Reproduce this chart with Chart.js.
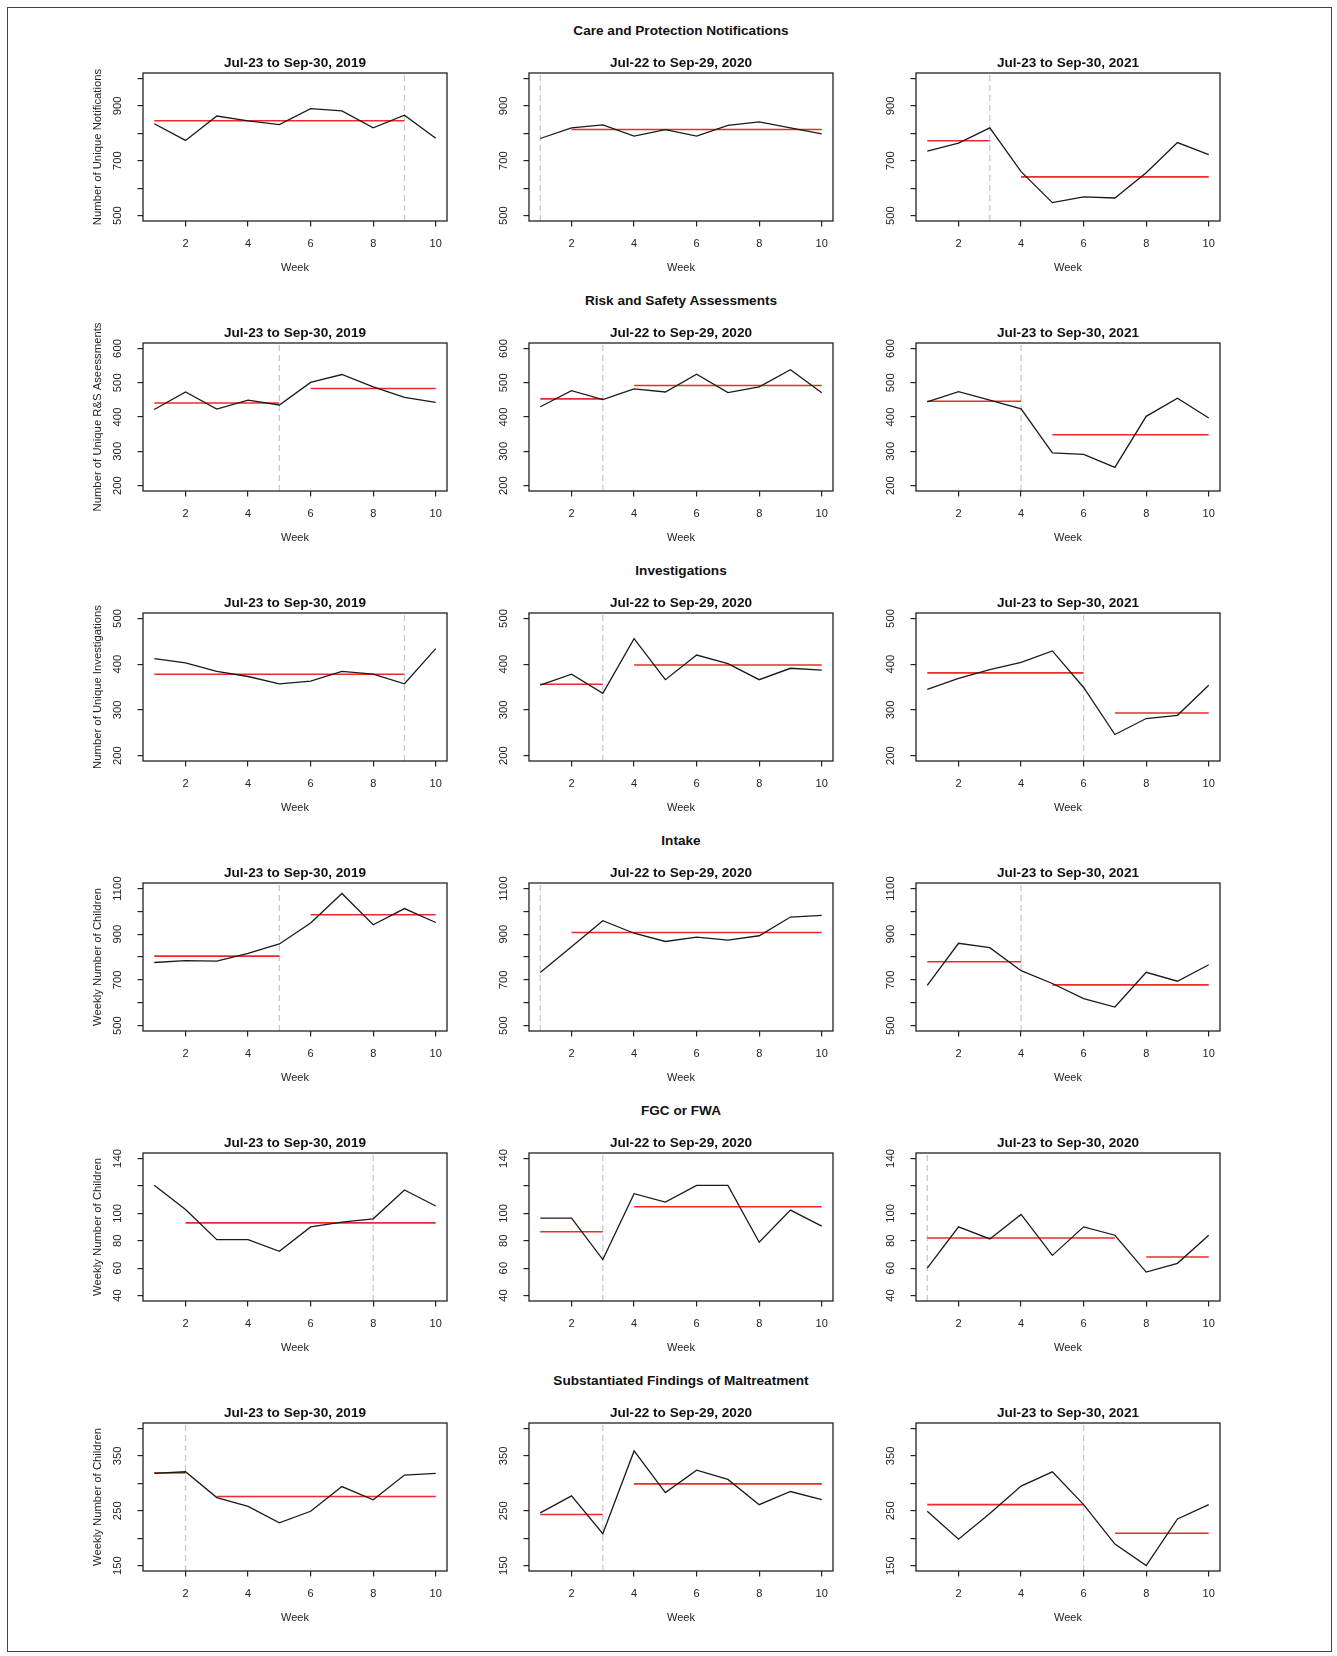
<!DOCTYPE html>
<html>

<head>
  <meta charset="utf-8">
  <title>Weekly indicators, 2019 - 2021</title>
  <script src="https://cdn.jsdelivr.net/npm/chart.js@4.4.0/dist/chart.umd.min.js"></script>
  <style>
    body { margin: 0; background: #fff; font-family: "Liberation Sans", Arial, sans-serif; }
    #page { position: relative; width: 1337px; height: 1656px; overflow: hidden; }
    #frame { position: absolute; left: 7px; top: 7px; width: 1323px; height: 1643px; border: 1px solid #444; }
    .rowTitle { position: absolute; left: 0; width: 1362px; text-align: center; font-weight: bold; font-size: 13.6px; line-height: 16px; color: #111; }
    canvas { position: absolute; }
  </style>
</head>

<body>
  <div id="page">
    <div id="frame"></div>
  </div>

  <script>
    // weeks and shared labels
    const weeks = [1, 2, 3, 4, 5, 6, 7, 8, 9, 10];
    const xTicks = [2, 4, 6, 8, 10];
    const rowTitles = ["Care and Protection Notifications", "Risk and Safety Assessments", "Investigations",
      "Intake", "FGC or FWA", "Substantiated Findings of Maltreatment"];
    const colTitles = ["Jul-23 to Sep-30, 2019", "Jul-22 to Sep-29, 2020", "Jul-23 to Sep-30, 2021"];
    const fgcColTitles = ["Jul-23 to Sep-30, 2019", "Jul-22 to Sep-29, 2020", "Jul-23 to Sep-30, 2020"];
    const yTitles = ["Number of Unique Notifications", "Number of Unique R&S Aseessments", "Number of Unique Investigations",
      "Weekly Number of Children", "Weekly Number of Children", "Weekly Number of Children"];

    // Care and Protection Notifications
    const notifTicks = [500, 600, 700, 800, 900, 1000];
    const notifLabels = [500, 700, 900];
    const notif2019 = [835, 774, 863, 845, 832, 890, 882, 820, 866, 782];
    const notif2020 = [781, 820, 831, 790, 813, 790, 829, 842, 820, 798];
    const notif2021 = [735, 764, 820, 660, 547, 568, 564, 656, 766, 722];
    const notifBreaks = [9, 1, 3];
    const notifMeans2019 = [[1, 9, 846]];
    const notifMeans2020 = [[2, 10, 814]];
    const notifMeans2021 = [[1, 3, 773], [4, 10, 641]];

    // Risk and Safety Assessments
    const rsaTicks = [200, 300, 400, 500, 600];
    const rsaLabels = [200, 300, 400, 500, 600];
    const rsa2019 = [422, 473, 423, 449, 435, 501, 524, 488, 457, 443];
    const rsa2020 = [430, 477, 451, 482, 473, 525, 471, 488, 538, 471];
    const rsa2021 = [444, 474, 449, 424, 295, 291, 253, 402, 455, 397];
    const rsaBreaks = [5, 3, 4];
    const rsaMeans2019 = [[1, 5, 441], [6, 10, 483]];
    const rsaMeans2020 = [[1, 3, 453], [4, 10, 492]];
    const rsaMeans2021 = [[1, 4, 446], [5, 10, 348]];

    // Investigations
    const invTicks = [200, 300, 400, 500];
    const invLabels = [200, 300, 400, 500];
    const inv2019 = [412, 403, 384, 373, 357, 363, 384, 378, 357, 434];
    const inv2020 = [354, 378, 336, 456, 366, 420, 401, 366, 391, 387];
    const inv2021 = [345, 369, 388, 404, 429, 349, 246, 281, 288, 354];
    const invBreaks = [9, 3, 6];
    const invMeans2019 = [[1, 9, 378]];
    const invMeans2020 = [[1, 3, 356], [4, 10, 398]];
    const invMeans2021 = [[1, 6, 381], [7, 10, 293]];

    // Intake
    const intakeTicks = [500, 600, 700, 800, 900, 1000, 1100];
    const intakeLabels = [500, 700, 900, 1100];
    const intake2019 = [776, 784, 782, 816, 857, 949, 1078, 941, 1012, 951];
    const intake2020 = [732, 845, 959, 904, 868, 887, 874, 893, 975, 982];
    const intake2021 = [676, 860, 841, 740, 684, 618, 581, 733, 694, 766];
    const intakeBreaks = [5, 1, 4];
    const intakeMeans2019 = [[1, 5, 804], [6, 10, 985]];
    const intakeMeans2020 = [[2, 10, 907]];
    const intakeMeans2021 = [[1, 4, 779], [5, 10, 678]];

    // FGC or FWA
    const fgcTicks = [40, 60, 80, 100, 120, 140];
    const fgcLabels = [40, 60, 80, 100, 140];
    const fgc2019 = [120.4, 102.8, 80.8, 80.8, 72.3, 90.1, 93.5, 96, 117, 105.3];
    const fgc2020 = [96.5, 96.5, 66.2, 114.3, 108.2, 120.4, 120.4, 78.9, 102.3, 90.6];
    const fgc2021 = [60, 90.1, 81.3, 99.2, 69.3, 90.1, 84, 57.1, 63.5, 84];
    const fgcBreaks = [8, 3, 1];
    const fgcMeans2019 = [[2, 10, 93]];
    const fgcMeans2020 = [[1, 3, 86.5], [4, 10, 104.8]];
    const fgcMeans2021 = [[1, 7, 82], [8, 10, 68.1]];

    // Substantiated Findings of Maltreatment
    const subTicks = [150, 200, 250, 300, 350, 400];
    const subLabels = [150, 250, 350];
    const sub2019 = [318, 321, 274, 258, 228, 249, 294, 270, 315, 318];
    const sub2020 = [246, 277, 208, 359, 283, 324, 307, 261, 285, 270];
    const sub2021 = [249, 198, 245, 295, 321, 261, 189, 150, 235, 261];
    const subBreaks = [2, 3, 6];
    const subMeans2019 = [[1, 2, 319], [3, 10, 276]];
    const subMeans2020 = [[1, 3, 243], [4, 10, 299]];
    const subMeans2021 = [[1, 6, 261], [7, 10, 209]];

    const rows = [
      { ticks: notifTicks, labels: notifLabels, series: [notif2019, notif2020, notif2021], breaks: notifBreaks, means: [notifMeans2019, notifMeans2020, notifMeans2021], titles: colTitles },
      { ticks: rsaTicks, labels: rsaLabels, series: [rsa2019, rsa2020, rsa2021], breaks: rsaBreaks, means: [rsaMeans2019, rsaMeans2020, rsaMeans2021], titles: colTitles },
      { ticks: invTicks, labels: invLabels, series: [inv2019, inv2020, inv2021], breaks: invBreaks, means: [invMeans2019, invMeans2020, invMeans2021], titles: colTitles },
      { ticks: intakeTicks, labels: intakeLabels, series: [intake2019, intake2020, intake2021], breaks: intakeBreaks, means: [intakeMeans2019, intakeMeans2020, intakeMeans2021], titles: colTitles },
      { ticks: fgcTicks, labels: fgcLabels, series: [fgc2019, fgc2020, fgc2021], breaks: fgcBreaks, means: [fgcMeans2019, fgcMeans2020, fgcMeans2021], titles: fgcColTitles },
      { ticks: subTicks, labels: subLabels, series: [sub2019, sub2020, sub2021], breaks: subBreaks, means: [subMeans2019, subMeans2020, subMeans2021], titles: colTitles }
    ];

    const FONT = '"Liberation Sans", Arial, Helvetica, sans-serif';
    const boxLeft = [143, 529, 916];
    const boxTop0 = 73, rowStep = 270;
    const boxW = 304, boxH = 148;
    const padL = 70, padT = 33, padR = 10, padB = 58;
    const tickLen = 5.5;
    const tickFont = 11.3;

    Chart.defaults.font.family = FONT;
    Chart.defaults.color = '#222';

    // R style box around the plotting region
    const boxPlugin = {
      id: 'rbox',
      afterDatasetsDraw(chart) {
        const a = chart.chartArea;
        const ctx = chart.ctx;
        ctx.save();
        ctx.strokeStyle = '#222';
        ctx.lineWidth = 1.3;
        ctx.strokeRect(a.left, a.top, a.right - a.left, a.bottom - a.top);
        ctx.restore();
      }
    };

    function textWidth(txt, size) {
      const c = document.createElement('canvas').getContext('2d');
      c.font = size + 'px ' + FONT;
      return c.measureText(txt).width;
    }

    function makePanel(r, c) {
      const row = rows[r];
      const page = document.getElementById('page');
      const cv = document.createElement('canvas');
      cv.width = padL + boxW + padR;
      cv.height = padT + boxH + padB;
      cv.style.left = (boxLeft[c] - padL) + 'px';
      cv.style.top = (boxTop0 + r * rowStep - padT) + 'px';
      page.appendChild(cv);

      const t = row.ticks;
      const span = t[t.length - 1] - t[0];
      const yLo = t[0] - 0.04 * span;
      const yHi = t[t.length - 1] + 0.04 * span;

      var widest = 0;
      row.labels.forEach(v => { widest = Math.max(widest, textWidth(String(v), tickFont)); });
      const yPad = 25 - tickLen - widest / 2;

      const datasets = [];
      datasets.push({
        data: weeks.map((w, i) => ({ x: w, y: row.series[c][i] })),
        borderColor: '#1a1a1a', borderWidth: 1.3, pointRadius: 0, tension: 0
      });
      row.means[c].forEach(m => {
        datasets.push({
          data: [{ x: m[0], y: m[2] }, { x: m[1], y: m[2] }],
          borderColor: '#ee2a2a', borderWidth: 1.6, pointRadius: 0
        });
      });
      datasets.push({
        data: [{ x: row.breaks[c], y: yLo }, { x: row.breaks[c], y: yHi }],
        borderColor: '#c9c9c9', borderWidth: 1.3, borderDash: [6, 4], pointRadius: 0
      });

      new Chart(cv.getContext('2d'), {
        type: 'line',
        data: { datasets: datasets },
        plugins: [boxPlugin],
        options: {
          responsive: false,
          animation: false,
          devicePixelRatio: 1,
          layout: { padding: { left: 0, right: padR, top: 14.84, bottom: 0 } },
          plugins: {
            legend: { display: false },
            tooltip: { enabled: false },
            title: {
              display: true,
              fullSize: false,
              text: row.titles[c],
              color: '#111',
              font: { size: 13.6, weight: 'bold', family: FONT },
              padding: { top: 0, bottom: 1.84 }
            }
          },
          scales: {
            x: {
              type: 'linear',
              min: 0.64,
              max: 10.36,
              afterBuildTicks: s => { s.ticks = xTicks.map(v => ({ value: v })); },
              afterFit: s => { s.height = padB; },
              grid: { drawOnChartArea: false, drawTicks: true, tickLength: tickLen, color: '#222', lineWidth: 1.2 },
              border: { display: false },
              ticks: { autoSkip: false, maxRotation: 0, padding: 10.4, font: { size: 11 }, color: '#222' },
              title: { display: true, text: 'Week', font: { size: 11 }, color: '#222', padding: { top: 0, bottom: 4.4 } }
            },
            y: {
              type: 'linear',
              min: yLo,
              max: yHi,
              afterBuildTicks: s => { s.ticks = t.map(v => ({ value: v })); },
              afterFit: s => { s.width = padL; },
              grid: { drawOnChartArea: false, drawTicks: true, tickLength: tickLen, color: '#222', lineWidth: 1.2 },
              border: { display: false },
              ticks: {
                autoSkip: false,
                minRotation: 90,
                maxRotation: 90,
                crossAlign: 'center',
                padding: yPad,
                font: { size: tickFont },
                color: '#222',
                callback: v => (row.labels.indexOf(v) >= 0 ? String(v) : '')
              },
              title: {
                display: c === 0,
                text: yTitles[r],
                font: { size: 11.3 },
                color: '#222',
                padding: { top: 18.4, bottom: 0 }
              }
            }
          }
        }
      });
    }

    rowTitles.forEach((txt, r) => {
      const d = document.createElement('div');
      d.className = 'rowTitle';
      d.style.top = (30.6 + r * rowStep - 8) + 'px';
      d.textContent = txt;
      document.getElementById('page').appendChild(d);
      for (var c = 0; c < 3; c++) {
        makePanel(r, c);
      }
    });
  </script>
</body>

</html>
